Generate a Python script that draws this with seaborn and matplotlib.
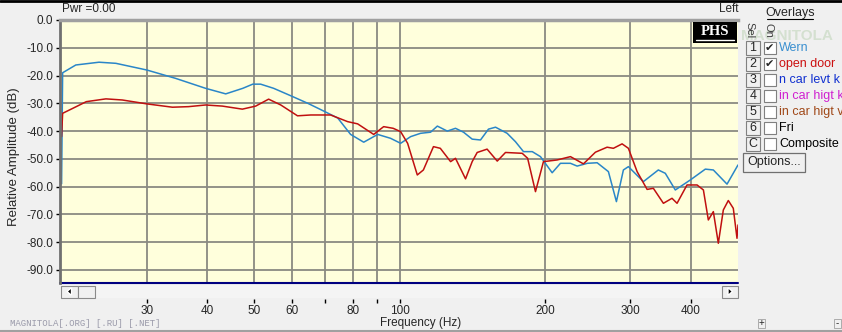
import pandas as pd
import matplotlib
matplotlib.use('Agg')
import matplotlib.pyplot as plt
import matplotlib.patches as mpatches
import seaborn as sns

# values: frequency in Hz, level in dB
wern_freq = [20.0, 20.1, 21.4, 23.9, 25.9, 30.0, 34.4, 39.7, 43.7, 47.4, 49.7, 51.6, 54.9, 59.6,
             64.6, 69.7, 74.5, 79.2, 84.3, 90.1, 95.8, 100.5, 105.4, 110.5, 115.9, 119.7, 125.5,
             130.5, 135.6, 141.3, 147.0, 152.7, 157.9, 166.9, 173.6, 180.4, 188.1, 195.6, 206.8,
             215.1, 225.6, 232.9, 244.6, 256.2, 270.3, 280.8, 290.3, 297.3, 319.3, 342.8, 354.4,
             371.7, 399.2, 428.8, 445.5, 475.5, 501.0]
wern_db = [-59, -19, -16.2, -15.2, -15.6, -18, -21, -24.6, -26.6, -24.6, -23.1, -23.1, -24.6, -27.3,
           -30, -32.8, -35.3, -41.2, -44, -41.2, -42.6, -44.4, -42, -40.8, -40.4, -38.2, -40,
           -39, -40.4, -42.9, -43.2, -39.3, -38.6, -40.8, -43.8, -47.4, -47.4, -49.2, -55,
           -51.6, -51.6, -52.6, -51.6, -51.4, -54.6, -65.4, -54, -52.8, -58.2, -54, -55.2,
           -61.2, -57.6, -53.7, -54, -59.1, -52.2]

door_freq = [20.0, 20.1, 21.1, 22.5, 24.7, 26.7, 30.0, 33.9, 36.6, 39.7, 43.0, 47.3, 50.4, 53.6,
             56.8, 61.5, 65.5, 72.0, 78.1, 81.9, 88.4, 92.7, 97.0, 100.5, 103.9, 108.8, 112.0,
             117.5, 121.4, 127.5, 130.5, 136.9, 141.3, 144.7, 151.7, 159.2, 165.6, 179.3, 184.0,
             191.0, 198.4, 211.7, 225.6, 240.0, 254.1, 268.6, 276.8, 288.5, 297.3, 309.9, 325.0,
             334.8, 351.2, 365.9, 374.8, 393.0, 412.3, 424.9, 435.0, 445.5, 456.2, 467.2, 478.4,
             489.9, 498.6, 501.0]
door_db = [-42, -33.6, -31.8, -29.4, -28.4, -28.8, -30.2, -31.4, -31.2, -30.6, -31, -32.1, -31, -28.5,
           -30.6, -34.5, -34.2, -34.2, -36.6, -37.4, -41.2, -38.4, -39.0, -40.2, -44.4, -55.8, -54,
           -45.6, -46.2, -51, -49.8, -57.2, -51, -47.7, -46.5, -50.8, -47.7, -48, -49.8,
           -61.8, -51, -50.4, -49.2, -51.8, -47.6, -45.8, -46.2, -44.6, -46.2, -54.6, -61,
           -60.6, -66, -64.2, -66, -59.4, -59.4, -61.2, -72, -69, -80.4, -68.4, -65,
           -67.8, -78.6, -73.8]

x_ticks = [30, 40, 50, 60, 70, 80, 90, 100, 200, 300, 400]
x_tick_labels = ['30', '40', '50', '60', '', '80', '', '100', '200', '300', '400']
y_ticks = [0, -10, -20, -30, -40, -50, -60, -70, -80, -90]

overlay_keys = ['1', '2', '3', '4', '5', '6', 'C']
overlay_names = ['Wern', 'open door', 'n car levt k', 'in car higt k', 'in car higt v', 'Fri', 'Composite']
overlay_on = [True, True, False, False, False, False, False]
overlay_colors = ['#3a8fd0', '#cc1010', '#1030d0', '#d020d0', '#a04818', '#000000', '#000000']

W, H = 842, 332

sns.set_theme(style='white')
plt.rcParams['font.family'] = ['Liberation Sans', 'DejaVu Sans']


# helpers working in screen pixels (origin top-left)
def fx(x):
    return x / W


def fy(y):
    return 1 - y / H


def rect(fig, x0, y0, x1, y1, **kw):
    fig.patches.append(mpatches.Rectangle((fx(x0), fy(y1)), (x1 - x0) / W, (y1 - y0) / H,
                                          transform=fig.transFigure, **kw))


def hline(fig, x0, x1, y, **kw):
    fig.add_artist(plt.Line2D([fx(x0), fx(x1)], [fy(y), fy(y)], transform=fig.transFigure, **kw))


def triangle(fig, pts, **kw):
    fig.patches.append(mpatches.Polygon([(fx(a), fy(b)) for a, b in pts], closed=True,
                                        transform=fig.transFigure, **kw))


df = pd.concat([
    pd.DataFrame({'freq': wern_freq, 'db': wern_db, 'series': 'Wern'}),
    pd.DataFrame({'freq': door_freq, 'db': door_db, 'series': 'open door'}),
], ignore_index=True)

fig = plt.figure(figsize=(W / 100, H / 100), dpi=100)
fig.patch.set_facecolor('#f0f0f0')

ax = fig.add_axes([fx(60), fy(283), 678 / W, 263 / H])
ax.set_facecolor('#ffffdc')
sns.lineplot(data=df, x='freq', y='db', hue='series',
             palette={'Wern': '#2a86c8', 'open door': '#c01010'},
             estimator=None, sort=False, linewidth=1.1, legend=False, ax=ax)

ax.set_xscale('log')
ax.set_xlim(19.85, 501)
ax.set_ylim(-94.7, 0)
ax.set_xticks(x_ticks)
ax.set_xticklabels(x_tick_labels)
ax.xaxis.set_minor_locator(matplotlib.ticker.NullLocator())
ax.set_yticks(y_ticks)
ax.set_yticklabels([f'{v:.1f}' for v in y_ticks])
ax.set_xlabel('')
ax.set_ylabel('')
ax.grid(True, color='#8a8a82', linewidth=1.3)
ax.set_axisbelow(True)

ax.spines['top'].set_color('#a0a0a0')
ax.spines['top'].set_linewidth(2.5)
ax.spines['left'].set_color('#707070')
ax.spines['left'].set_linewidth(2)
ax.spines['right'].set_visible(False)
ax.spines['bottom'].set_position(('outward', 11.5))
ax.spines['bottom'].set_color('none')
ax.tick_params(axis='x', direction='out', length=3, width=1, color='black', pad=1.5,
               labelsize=8.5, bottom=True)
ax.tick_params(axis='y', direction='out', length=3, width=1, color='black', pad=2,
               labelsize=8.5, left=True)
ax.plot([0, 1], [0, 0], transform=ax.transAxes, color='#000080', linewidth=1.5, clip_on=False)

# PHS badge
rect(fig, 693, 22, 737, 43, facecolor='black', edgecolor='none', zorder=5)
fig.text(fx(715), fy(31.5), 'PHS', ha='center', va='center', color='white', zorder=6,
         fontsize=10.5, fontweight='bold', family=['Liberation Serif', 'DejaVu Serif'])
hline(fig, 696, 734, 40, color='white', linewidth=1, zorder=6)

# window frame and header
hline(fig, 0, W, 0.8, color='black', linewidth=2)
fig.text(fx(62), fy(9), 'Pwr =0.00', fontsize=8.5, ha='left', va='center')
fig.text(fx(738), fy(9), 'Left', fontsize=8.5, ha='right', va='center')
fig.text(fx(14), fy(157), 'Relative Amplitude (dB)', fontsize=9.5, rotation=90,
         ha='center', va='center')
fig.text(fx(421), fy(323), 'Frequency (Hz)', fontsize=8.5, ha='center', va='center')

# scroll bar under the plot
rect(fig, 60, 284.5, 738, 298, facecolor='#f4f4f4', edgecolor='none')
rect(fig, 61.5, 285.5, 77.5, 297.5, facecolor='#f0f0f0', edgecolor='#8a8a8a', linewidth=0.8)
rect(fig, 78, 285.5, 95, 297.5, facecolor='#f0f0f0', edgecolor='#8a8a8a', linewidth=0.8)
rect(fig, 722, 285.5, 737.5, 297.5, facecolor='#f0f0f0', edgecolor='#8a8a8a', linewidth=0.8)
triangle(fig, [(71.5, 287.5), (71.5, 295.5), (67, 291.5)], facecolor='black')
triangle(fig, [(728, 287.5), (728, 295.5), (732.5, 291.5)], facecolor='black')

# overlays panel (faint watermark behind it)
fig.text(fx(787), fy(36), 'MAGNITOLA', fontsize=11, color='#d4e0d0', ha='center', va='center',
         fontweight='bold', zorder=0)
fig.text(fx(790), fy(13), 'Overlays', fontsize=9, ha='center', va='center')
hline(fig, 767, 813, 19, color='black', linewidth=0.8)
fig.text(fx(749), fy(30), 'Sel', fontsize=8, rotation=270, ha='center', va='center', color='#404040')
fig.text(fx(769), fy(30), 'On', fontsize=8, rotation=270, ha='center', va='center', color='#404040')
for i, key in enumerate(overlay_keys):
    y = 48 + 16 * i
    rect(fig, 746, y - 7, 759.5, y + 7, facecolor='#f0f0f0', edgecolor='#808080', linewidth=0.8)
    fig.text(fx(752.8), fy(y), key, fontsize=9, ha='center', va='center')
    rect(fig, 764, y - 6, 775.5, y + 6, facecolor='white', edgecolor='#808080', linewidth=0.8)
    if overlay_on[i]:
        fig.text(fx(769.8), fy(y), '\u2714', fontsize=8, ha='center', va='center',
                 family=['DejaVu Sans'])
    fig.text(fx(779), fy(y), overlay_names[i], fontsize=9, ha='left', va='center',
             color=overlay_colors[i])
rect(fig, 743, 153, 805, 172, facecolor='#f0f0f0', edgecolor='#707070', linewidth=0.9)
fig.text(fx(774), fy(162.5), 'Options...', fontsize=9, ha='center', va='center')

# footer
fig.text(fx(10), fy(324), 'MAGNITOLA[.ORG] [.RU] [.NET]', fontsize=6.5, color='#9a9aaa',
         ha='left', va='center', family=['Liberation Mono', 'DejaVu Sans Mono'])
rect(fig, 758, 319, 765, 328, facecolor='#f0f0f0', edgecolor='#a0a0a0', linewidth=0.6)
fig.text(fx(761.5), fy(323), '+', fontsize=7, ha='center', va='center')
rect(fig, 834, 319, 841, 328, facecolor='#f0f0f0', edgecolor='#a0a0a0', linewidth=0.6)
fig.text(fx(837.5), fy(323), '-', fontsize=7, ha='center', va='center')
hline(fig, 0, W, 330.5, color='#a0a0a0', linewidth=1.5)

fig.savefig('out.png', dpi=100, facecolor=fig.get_facecolor())
plt.close(fig)
